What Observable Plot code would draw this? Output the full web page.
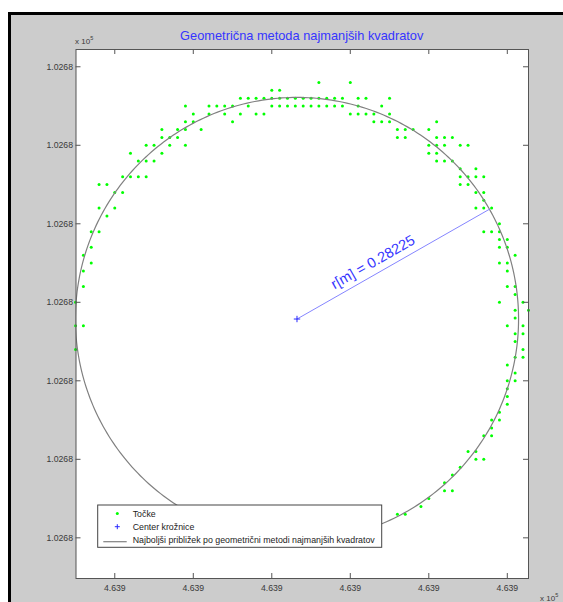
<!DOCTYPE html>
<html>
<head>
<meta charset="utf-8">
<script src="https://cdn.jsdelivr.net/npm/d3@7"></script>
<script src="https://cdn.jsdelivr.net/npm/@observablehq/plot@0.6"></script>
<style>
html,body{margin:0;padding:0;background:#fff;overflow:hidden;width:563px;height:602px}
#wrap{position:relative;width:563px;height:602px;overflow:hidden}
#fig{position:absolute;left:8px;top:12px;width:620px;height:660px;background:#cccccc;border:3px solid #000;box-sizing:border-box}
#chart{position:absolute;left:0;top:0}
#overlay{position:absolute;left:0;top:0;font-family:'Liberation Sans',Arial,sans-serif}
</style>
</head>
<body>
<div id="wrap"><div id="fig"></div><div id="chart"></div><svg id="overlay" width="563" height="602"></svg></div>
<script>
// ---- data ----
const E0 = 463925.00;           // base easting (m)
const N0 = 102680.00;           // base northing (m)
const titleText = "Geometrična metoda najmanjših kvadratov";
const legendLabels = ["Točke", "Center krožnice", "Najboljši približek po geometrični metodi najmanjših kvadratov"];

// measured points: northing offset (cm) per row, and easting offsets (cm) in that row
const rowN = [68,67,66,65,64,63,62,61,60,59,58,57,56,55,54,53,52,51,50,49,48,47,46,45,44,42,41,40,39,38,37,36,35,34,33,32,31,30,29,28,27,26,25,24,23,21,20,19,18,17,16,15,14,13];
const rowE = [
  [36,40],
  [30,31],
  [26,27,28,29,30,31,32,33,34,35,36,37,38,39,41,42,45],
  [19,22,23,24,25,27,30,31,32,33,34,35,36,37,38,39,41,44],
  [20,22,24,26,28,29,40,41,42,43,45],
  [19,20,25,43,44,45,51],
  [16,18,19,21,46,47,48,50],
  [16,17,18,46,47,51,52,53],
  [14,15,17,19,50,51,52,54,55],
  [12,16,50,51],
  [13,14,15,51,52,53],
  [54,56],
  [11,12,13,14,54,55,56,57],
  [8,9,54,55],
  [10,11,56,57],
  [57],
  [8,10,56,57,58],
  [9],
  [59],
  [7,8,57,58,59],
  [59,60],
  [7,59,60],
  [6,61],
  [7,59,60],
  [6,60],
  [6,60,61],
  [61],
  [5,59,62],
  [61,62.7],
  [61],
  [5,6,60,62],
  [61,62],
  [61],
  [5,62],
  [61,62],
  [60],
  [61],
  [60,61],
  [60],
  [60],
  [60],
  [59],
  [58,59],
  [58],
  [57,58],
  [55,56],
  [56,57],
  [54],
  [53],
  [52],
  [52,53],
  [50],
  [49],
  [46,47]
];

// fitted circle
const centerE = E0 + 0.3321;
const centerN = N0 + 0.3787;
const radius = 0.28225;          // m
const radiusAngle = 29.7;        // degrees, direction of drawn radius

// axes
const xTicks = [E0+0.1, E0+0.2, E0+0.3, E0+0.4, E0+0.5, E0+0.6];
const xTickLabels = ["4.639","4.639","4.639","4.639","4.639","4.639"];
const yTicks = [N0+0.1, N0+0.2, N0+0.3, N0+0.4, N0+0.5, N0+0.6, N0+0.7];
const yTickLabels = ["1.0268","1.0268","1.0268","1.0268","1.0268","1.0268","1.0268"];
const xDomain = [E0+0.0506, E0+0.6270];
const yDomain = [N0+0.0482, N0+0.7220];
const exponentText = "x 10";
const exponentSup = "5";

// ---- build ----
const points = rowN.flatMap((n, i) => rowE[i].map(e => ({E: E0 + e/100, N: N0 + n/100})));
const circle = d3.range(0, 361, 1).map(a => ({
  E: centerE + radius*Math.cos(a*Math.PI/180),
  N: centerN + radius*Math.sin(a*Math.PI/180)
}));
const ang = radiusAngle*Math.PI/180;
const radiusLine = [
  {E: centerE, N: centerN},
  {E: centerE + radius*Math.cos(ang), N: centerN + radius*Math.sin(ang)}
];
const labelPos = [{E: centerE + 0.425*radius*Math.cos(ang), N: centerN + 0.425*radius*Math.sin(ang),
                   t: "r[m] = " + radius.toFixed(5)}];

const W = 563, H = 602, mL = 75.5, mR = 35, mT = 49, mB = 24;
const fw = W - mL - mR, fh = H - mT - mB;
const xfmt = new Map(xTicks.map((t, i) => [t, xTickLabels[i]]));
const yfmt = new Map(yTicks.map((t, i) => [t, yTickLabels[i]]));
const axisCol = "#555555";

const chart = Plot.plot({
  width: W, height: H,
  marginLeft: mL, marginRight: mR, marginTop: mT, marginBottom: mB,
  style: {background: "transparent", fontFamily: "'Liberation Sans', Arial, sans-serif", fontSize: "8.7px", color: "#3a3a3a", overflow: "visible"},
  x: {domain: xDomain},
  y: {domain: yDomain},
  marks: [
    Plot.frame({fill: "white", stroke: "none"}),
    Plot.dot(points, {x: "E", y: "N", r: 1.5, fill: "#00ff00", stroke: "none"}),
    Plot.line(circle, {x: "E", y: "N", stroke: "#808080", strokeWidth: 1.2, clip: true}),
    Plot.line(radiusLine, {x: "E", y: "N", stroke: "#8585ff", strokeWidth: 1}),
    Plot.dot([radiusLine[0]], {x: "E", y: "N", symbol: "plus", r: 2.2, stroke: "#2a2aff", strokeWidth: 1}),
    Plot.text(labelPos, {x: "E", y: "N", text: "t", rotate: -radiusAngle, dx: -5.8, dy: -10.2,
      fontSize: 14.5, fill: "#3535ff", textAnchor: "middle", lineAnchor: "middle"}),
    Plot.frame({stroke: axisCol}),
    Plot.tickX(xTicks, {x: d => d, insetTop: fh - 5, stroke: axisCol}),
    Plot.tickX(xTicks, {x: d => d, insetBottom: fh - 5, stroke: axisCol}),
    Plot.tickY(yTicks, {y: d => d, insetRight: fw - 5, stroke: axisCol}),
    Plot.tickY(yTicks, {y: d => d, insetLeft: fw - 5, stroke: axisCol}),
    Plot.axisX({anchor: "bottom", ticks: xTicks, tickSize: 0, tickPadding: 6, tickFormat: d => xfmt.get(d), label: null}),
    Plot.axisY({anchor: "left", ticks: yTicks, tickSize: 0, tickPadding: 3, tickFormat: d => yfmt.get(d), label: null})
  ]
});
document.getElementById("chart").appendChild(chart);

// ---- annotations: title, exponent labels, legend ----
const svg = d3.select("#overlay");
svg.append("text").attr("x", mL + fw/2).attr("y", 40).attr("text-anchor", "middle")
  .attr("font-size", 12.8).attr("fill", "#3535ff").text(titleText);

function expo(x, y) {
  const t = svg.append("text").attr("x", x).attr("y", y).attr("font-size", 8).attr("fill", "#3a3a3a");
  t.append("tspan").text(exponentText);
  t.append("tspan").attr("dy", -4).attr("font-size", 5.5).text(exponentSup);
}
expo(75, 44.3);
expo(540, 600.5);

const lg = svg.append("g");
lg.append("rect").attr("x", 97.7).attr("y", 505).attr("width", 284).attr("height", 42.3)
  .attr("fill", "white").attr("stroke", "#444").attr("stroke-width", 1);
lg.append("circle").attr("cx", 117.3).attr("cy", 513.5).attr("r", 1.5).attr("fill", "#00ff00");
lg.append("path").attr("d", "M114.8,526.7H119.8M117.3,524.2V529.2").attr("stroke", "#2a2aff").attr("stroke-width", 1);
lg.append("line").attr("x1", 103.3).attr("x2", 126.7).attr("y1", 541.7).attr("y2", 541.7)
  .attr("stroke", "#808080").attr("stroke-width", 1.2);
legendLabels.forEach((s, i) => {
  lg.append("text").attr("x", 132.7).attr("y", 517 + 13*i).attr("font-size", 8.8).attr("fill", "#222").text(s);
});
</script>
</body>
</html>
